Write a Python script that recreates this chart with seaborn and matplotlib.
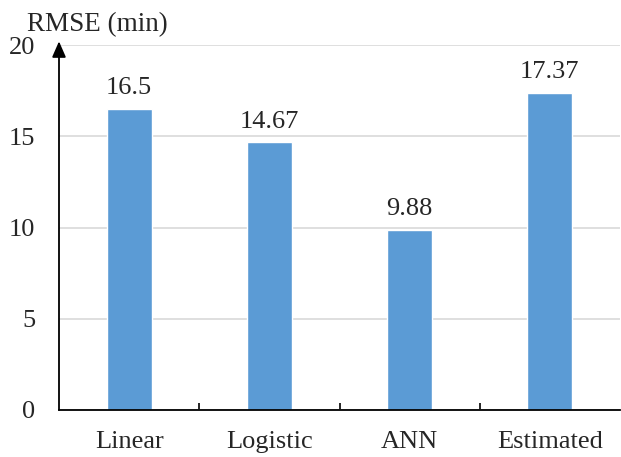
import matplotlib
matplotlib.use("Agg")
import matplotlib.pyplot as plt
import seaborn as sns
import pandas as pd

categories = ["Linear", "Logistic", "ANN", "Estimated"]
rmse = [16.5, 14.67, 9.88, 17.37]
value_labels = ["16.5", "14.67", "9.88", "17.37"]
yticks = [0, 5, 10, 15, 20]

sns.set_theme(style="white")
plt.rcParams['font.family'] = ['Liberation Serif', 'DejaVu Serif']

df = pd.DataFrame({"model": categories, "rmse": rmse})

fig = plt.figure(figsize=(6.21, 4.57), dpi=100)
ax = fig.add_axes([59/621, 47/457, 561/621, 365/457])

sns.barplot(data=df, x="model", y="rmse", color="#5B9BD5", width=0.32,
            saturation=1, ax=ax, zorder=3)

FS = 19
ax.set_xlim(-0.5, 3.5)
ax.set_ylim(0, 20)
ax.set_yticks(yticks)
ax.set_yticklabels([str(v) for v in yticks], fontsize=FS)
ax.tick_params(axis='y', length=0, pad=17)
ax.tick_params(axis='x', which='major', length=0, pad=15, labelsize=FS)
ax.set_xticks([0.5, 1.5, 2.5], minor=True)
ax.tick_params(axis='x', which='minor', bottom=True, direction='in',
               length=5, width=1.2, color='black')
ax.set_xlabel("")
ax.set_ylabel("")
ax.yaxis.grid(True, color="#D9D9D9", linewidth=1.2, zorder=0)
ax.set_axisbelow(True)
for s in ["top", "right", "left"]:
    ax.spines[s].set_visible(False)
ax.spines["bottom"].set_color("black")
ax.spines["bottom"].set_linewidth(1.3)
ax.spines["bottom"].set_zorder(4)

for c in ax.containers:
    ax.bar_label(c, labels=value_labels, padding=7, fontsize=FS)

ax.annotate("", xy=(0, 1.01), xytext=(0, 0), xycoords='axes fraction',
            arrowprops=dict(arrowstyle="-|>,head_length=0.8,head_width=0.35",
                            color="black", lw=1.3, shrinkA=0, shrinkB=0),
            annotation_clip=False, zorder=5)

fig.text(27/621, 1 - 31/457, "RMSE (min)", fontsize=FS + 0.5, va="baseline", ha="left")

fig.savefig("out.png", dpi=100, facecolor="white")
